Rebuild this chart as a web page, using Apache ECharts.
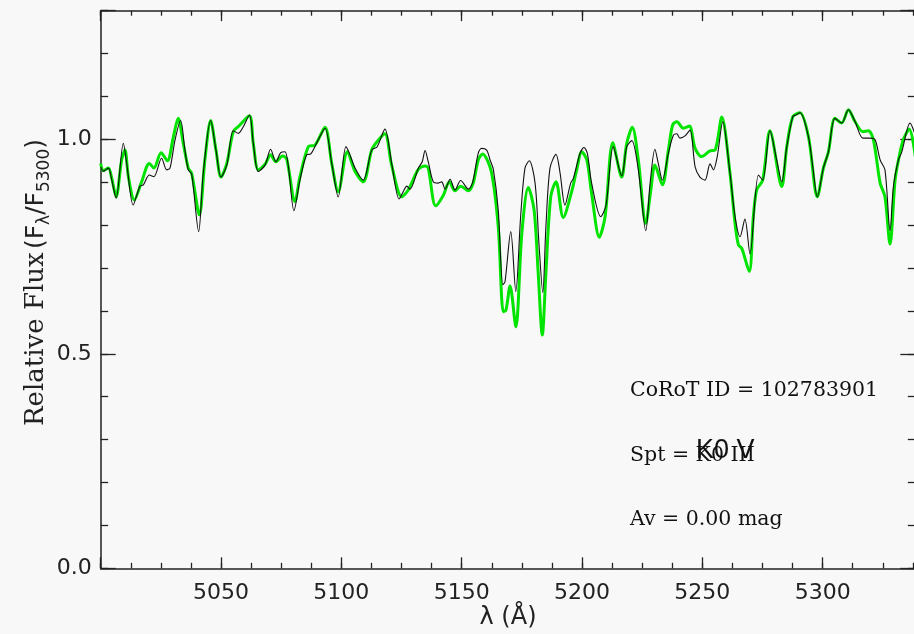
<!DOCTYPE html>
<html><head><meta charset="utf-8">
<script src="https://cdn.jsdelivr.net/npm/echarts/dist/echarts.min.js"></script>
<style>html,body{margin:0;padding:0;background:#f8f8f8}#c{width:914px;height:634px}</style>
</head><body><div id="c"></div>
<script>
// Tick labels
const xTickLabels = [5050, 5100, 5150, 5200, 5250, 5300];
const yTickLabels = ['0.0', '0.5', '1.0'];

// Observed spectrum (black)
const obsWave = [5000.0,5001.1,5003.2,5004.6,5006.4,5009.4,5010.8,5013.5,5016.3,5017.7,5020.2,5022.1,5025.3,5027.4,5028.8,5030.9,5033.2,5035.0,5036.4,5037.8,5040.7,5042.6,5045.7,5047.9,5050.0,5052.4,5055.1,5057.2,5059.3,5061.8,5063.4,5065.5,5068.3,5070.6,5072.8,5074.8,5076.6,5078.0,5080.3,5082.8,5085.6,5087.3,5090.4,5093.2,5096.0,5098.7,5101.9,5103.3,5105.7,5109.1,5112.6,5114.9,5118.1,5120.9,5124.0,5125.7,5127.2,5128.5,5132.0,5133.6,5134.8,5136.1,5138.2,5140.3,5141.7,5143.1,5145.2,5147.2,5149.6,5152.8,5154.6,5156.9,5158.3,5160.4,5161.8,5163.2,5165.2,5167.1,5168.0,5170.4,5172.5,5174.5,5176.3,5178.1,5180.5,5182.1,5183.7,5185.0,5186.7,5189.2,5190.9,5192.9,5195.3,5196.4,5199.2,5200.8,5202.2,5204.0,5207.8,5210.0,5213.0,5216.5,5218.6,5220.7,5223.4,5226.5,5228.3,5230.3,5231.7,5233.4,5235.9,5238.0,5239.4,5240.7,5242.8,5244.9,5247.0,5249.0,5251.1,5253.2,5254.6,5256.2,5258.5,5261.5,5263.6,5265.7,5267.7,5269.8,5273.3,5275.1,5278.1,5280.9,5283.0,5285.1,5287.6,5288.9,5290.6,5294.1,5295.9,5297.8,5300.3,5302.4,5305.1,5307.9,5310.7,5313.5,5316.7,5319.7,5321.8,5323.9,5325.9,5328.0,5329.4,5331.5,5332.9,5336.3,5338.5];
const obsFlux = [0.936,0.926,0.933,0.905,0.863,0.991,0.944,0.847,0.891,0.894,0.917,0.913,0.956,0.929,0.933,0.999,1.044,0.975,0.929,0.919,0.785,0.921,1.044,0.975,0.912,0.940,1.020,1.014,1.030,1.057,0.991,0.925,0.940,0.977,0.948,0.969,0.971,0.936,0.834,0.905,0.964,0.966,0.999,1.026,0.944,0.866,0.983,0.968,0.933,0.905,0.975,0.983,1.024,0.944,0.861,0.878,0.891,0.884,0.933,0.948,0.974,0.948,0.901,0.898,0.901,0.884,0.907,0.882,0.904,0.884,0.901,0.968,0.979,0.975,0.952,0.929,0.835,0.661,0.668,0.785,0.645,0.820,0.933,0.950,0.898,0.758,0.643,0.796,0.933,0.965,0.921,0.847,0.898,0.909,0.968,0.981,0.968,0.898,0.820,0.847,0.983,0.915,0.983,0.997,0.929,0.787,0.898,0.977,0.944,0.905,0.968,1.010,1.013,1.003,1.008,1.022,0.936,0.912,0.905,0.943,0.929,0.960,1.041,0.921,0.820,0.773,0.814,0.733,0.917,0.905,1.020,0.952,0.901,0.983,1.053,1.057,1.062,1.006,0.936,0.866,0.933,0.971,1.049,1.038,1.069,1.041,1.003,1.003,0.999,0.952,0.929,0.787,0.890,0.952,0.971,1.038,1.010];

// Template spectrum (green)
const tmplWave = [5000.0,5001.1,5003.2,5004.6,5006.4,5008.7,5010.1,5011.5,5014.0,5017.0,5020.2,5022.1,5025.1,5027.7,5030.2,5032.2,5034.3,5036.4,5037.8,5041.0,5043.3,5045.7,5047.9,5050.0,5052.4,5055.1,5057.2,5061.8,5063.4,5065.5,5068.3,5070.6,5072.8,5075.6,5077.3,5080.7,5082.8,5086.3,5089.1,5093.2,5096.0,5098.7,5102.5,5105.7,5109.1,5112.6,5114.9,5118.1,5120.9,5125.1,5127.8,5132.0,5134.8,5136.1,5139.2,5142.4,5144.9,5147.2,5149.6,5152.8,5154.8,5156.9,5158.7,5162.3,5165.2,5167.3,5168.4,5170.1,5172.5,5175.0,5177.7,5180.1,5181.8,5183.5,5185.0,5187.0,5189.2,5192.2,5195.7,5197.8,5199.9,5202.0,5204.0,5207.2,5209.6,5212.8,5216.5,5218.6,5220.9,5223.4,5226.5,5228.6,5230.3,5233.4,5235.9,5237.7,5239.4,5242.1,5244.6,5247.0,5249.7,5253.2,5255.3,5258.1,5261.5,5263.6,5265.0,5266.4,5269.5,5271.2,5272.6,5275.1,5278.1,5283.0,5285.1,5287.6,5290.6,5294.1,5297.8,5300.3,5302.4,5305.1,5307.9,5310.7,5313.5,5316.7,5319.0,5321.1,5323.9,5325.9,5328.0,5330.1,5331.5,5333.5,5336.0,5338.5];
const tmplFlux = [0.944,0.927,0.933,0.909,0.866,0.952,0.975,0.913,0.859,0.901,0.944,0.933,0.969,0.950,1.006,1.049,0.991,0.933,0.921,0.824,0.952,1.044,0.975,0.912,0.944,1.018,1.030,1.055,0.991,0.929,0.942,0.964,0.948,0.961,0.954,0.855,0.913,0.983,0.987,1.028,0.944,0.878,0.971,0.925,0.901,0.975,0.995,1.013,0.940,0.866,0.882,0.930,0.938,0.933,0.845,0.870,0.901,0.880,0.891,0.880,0.898,0.952,0.966,0.925,0.796,0.598,0.602,0.658,0.563,0.781,0.888,0.835,0.688,0.544,0.688,0.866,0.901,0.818,0.878,0.929,0.971,0.952,0.874,0.772,0.820,0.992,0.912,0.991,1.028,0.952,0.804,0.882,0.940,0.894,0.975,1.034,1.041,1.026,1.031,0.979,0.960,0.973,0.975,1.052,0.921,0.804,0.754,0.746,0.692,0.820,0.882,0.905,1.020,0.890,0.983,1.053,1.062,1.006,0.866,0.933,0.971,1.049,1.038,1.069,1.041,1.018,1.020,0.999,0.898,0.866,0.756,0.905,0.952,0.999,1.024,0.960];

const annoLines = ['CoRoT ID = 102783901', 'Spt = K0 III', 'Av = 0.00 mag'];
const spType = 'K0 V';

const X_MIN = 5000, X_MAX = 5338.5, Y_MIN = 0, Y_MAX = 1.3;
const axisColor = '#222';
const fontSans = 'DejaVu Sans';
const fontSerif = 'DejaVu Serif';

function xAx(pos, interval, tickLen, showLabel, showLine) {
  return {
    type: 'value', position: pos, min: X_MIN, max: X_MAX, interval: interval,
    splitLine: { show: false },
    axisLine: { show: showLine, onZero: false, lineStyle: { color: axisColor, width: 1.5 } },
    axisTick: { show: true, inside: true, length: tickLen, lineStyle: { color: axisColor, width: 1.3 } },
    axisLabel: showLabel ? {
      show: true, margin: 14, color: '#222', fontFamily: fontSans, fontSize: 22,
      formatter: v => xTickLabels.includes(Math.round(v * 10) / 10) ? String(v) : ''
    } : { show: false }
  };
}
function yAx(pos, interval, tickLen, showLabel, showLine) {
  return {
    type: 'value', position: pos, min: Y_MIN, max: Y_MAX, interval: interval,
    splitLine: { show: false },
    axisLine: { show: showLine, onZero: false, lineStyle: { color: axisColor, width: 1.5 } },
    axisTick: { show: true, inside: true, length: tickLen, lineStyle: { color: axisColor, width: 1.3 } },
    axisLabel: showLabel ? {
      show: true, margin: 9, color: '#222', fontFamily: fontSans, fontSize: 22,
      formatter: v => { const s = v.toFixed(1); return yTickLabels.includes(s) ? s : ''; }
    } : { show: false }
  };
}

const xAxes = [
  xAx('bottom', 50, 11, true, true),
  xAx('bottom', 12.5, 5.5, false, false),
  xAx('top', 50, 10.5, false, true),
  xAx('top', 12.5, 5, false, false)
];
xAxes[0].name = 'λ (Å)';
xAxes[0].nameLocation = 'middle';
xAxes[0].nameGap = 37;
xAxes[0].nameMoveOverlap = false;
xAxes[0].nameTextStyle = { fontFamily: fontSans, fontSize: 24, color: '#222' };

const yAxes = [
  yAx('left', 0.5, 15, true, true),
  yAx('left', 0.1, 7.5, false, false),
  yAx('right', 0.5, 15, false, true),
  yAx('right', 0.1, 7.5, false, false)
];
yAxes[0].name = '{s|Relative Flux} {a|(F}{b|λ}{a|/F}{b|5300}{a|)}';
yAxes[0].nameLocation = 'middle';
yAxes[0].nameGap = 48;
yAxes[0].nameMoveOverlap = false;
yAxes[0].nameTextStyle = {
  color: '#222',
  padding: [0, 0, 0, 14],
  rich: {
    s: { fontFamily: fontSerif, fontSize: 26, color: '#222', lineHeight: 32, verticalAlign: 'middle' },
    a: { fontFamily: fontSans, fontSize: 25, color: '#222', lineHeight: 32, verticalAlign: 'middle' },
    b: { fontFamily: fontSans, fontSize: 17, color: '#222', lineHeight: 17, verticalAlign: 'bottom' }
  }
};

const chart = echarts.init(document.getElementById('c'), null, { renderer: 'canvas' });
chart.setOption({
  animation: false,
  backgroundColor: '#f8f8f8',
  grid: { left: 100.7, top: 10.7, width: 814.6, height: 557.6, containLabel: false, outerBoundsMode: 'none' },
  xAxis: xAxes,
  yAxis: yAxes,
  series: [
    {
      type: 'line', xAxisIndex: 0, yAxisIndex: 0, showSymbol: false, smooth: 0.3,
      data: tmplWave.map((w, i) => [w, tmplFlux[i]]),
      lineStyle: { color: '#00e400', width: 3 }, z: 2
    },
    {
      type: 'line', xAxisIndex: 0, yAxisIndex: 0, showSymbol: false, smooth: 0.3,
      data: obsWave.map((w, i) => [w, obsFlux[i]]),
      lineStyle: { color: '#111', width: 1.1 }, z: 3
    }
  ],
  graphic: [
    { type: 'text', left: 630, top: 380, style: { text: annoLines[0], fill: '#111', font: '20.5px "DejaVu Serif"' } },
    { type: 'text', left: 630, top: 445, style: { text: annoLines[1], fill: '#111', font: '20.5px "DejaVu Serif"' } },
    { type: 'text', left: 630, top: 509, style: { text: annoLines[2], fill: '#111', font: '20.5px "DejaVu Serif"' } },
    { type: 'text', left: 696, top: 437, style: { text: spType, fill: '#111', font: '27px "Liberation Sans"' } }
  ]
});
</script>
</body></html>
